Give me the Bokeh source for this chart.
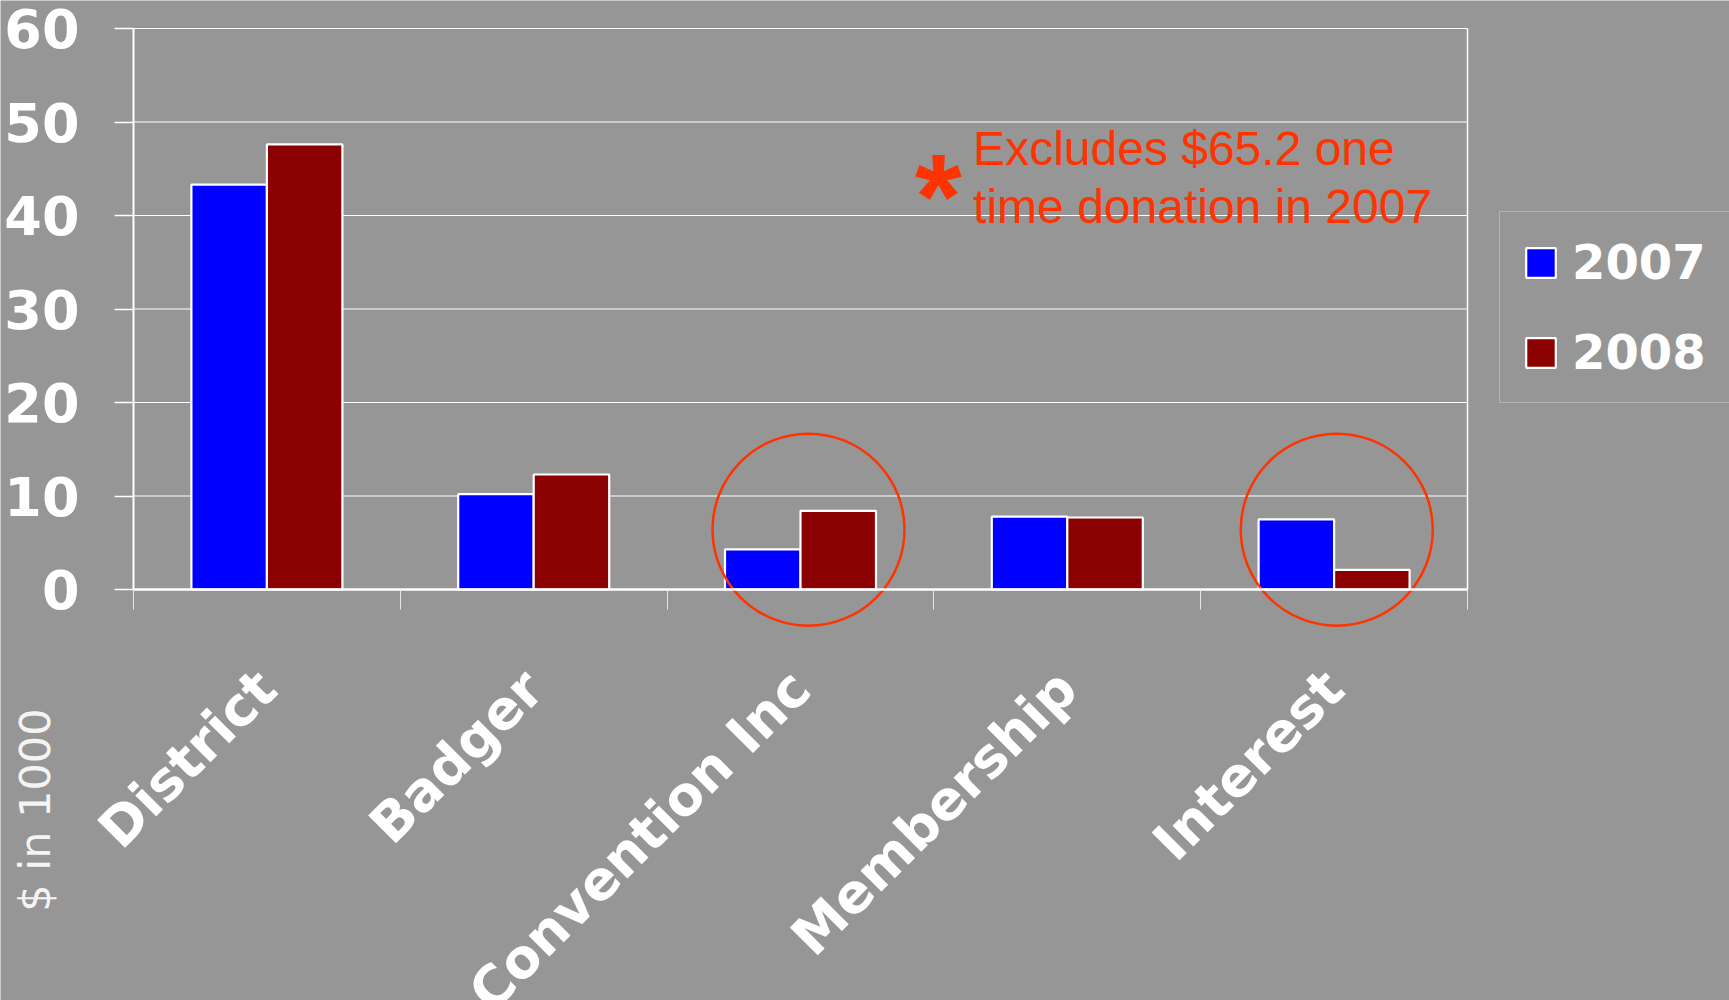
import math
from bokeh.plotting import figure
from bokeh.models import (ColumnDataSource, Range1d, FixedTicker, Legend, LegendItem, Label)
from bokeh.embed import file_html
from bokeh.resources import INLINE

# ---- data ----
categories = ["District", "Badger", "Convention Inc", "Membership", "Interest"]
values_2007 = [43.3, 10.2, 4.3, 7.8, 7.5]
values_2008 = [47.6, 12.3, 8.4, 7.7, 2.1]
series_names = ["2007", "2008"]
y_ticks = [0, 10, 20, 30, 40, 50, 60]
note_text = "Excludes $65.2 one\ntime donation in 2007"
axis_note = "$ in 1000"
circled = ["Convention Inc", "Interest"]
circle_shift = [0.03, 0.01]
circle_level = [6.4, 6.4]

BG = "#969696"
BLUE = "#0000FF"
RED = "#8B0000"
ORANGE = "#FF3300"
BAR_W = 0.283
W, H = 1729, 1000
# plot-area placement on the canvas (pixels)
FL, FR, FT, FB = 133, 1467, 28, 589
ncat = len(categories)
ymax = y_ticks[-1]
xs = (FR - FL) / ncat
ys = (FB - FT) / ymax

idx = [categories.index(c) + 0.5 for c in categories]
src = ColumnDataSource(dict(
    cat=categories,
    x07=[i - BAR_W / 2 for i in idx],
    x08=[i + BAR_W / 2 for i in idx],
    v07=values_2007,
    v08=values_2008,
))

p = figure(width=W, height=H, output_backend="svg", toolbar_location=None,
           x_range=Range1d(-FL / xs, ncat + (W - FR) / xs),
           y_range=Range1d(-(H - FB) / ys, ymax + FT / ys),
           min_border=0, background_fill_color=BG, border_fill_color=BG)
p.outline_line_color = None
p.xgrid.visible = False
p.ygrid.visible = False

# gridlines and right border of the plot area
grid_y = y_ticks[1:]
p.segment(x0=[0] * len(grid_y), x1=[ncat] * len(grid_y), y0=grid_y, y1=grid_y,
          line_color="white", line_width=1.2)
p.segment(x0=[ncat], x1=[ncat], y0=[0], y1=[ymax], line_color="white", line_width=1.5)

r07 = p.vbar(x="x07", top="v07", width=BAR_W, source=src, fill_color=BLUE,
             line_color="white", line_width=2.2)
r08 = p.vbar(x="x08", top="v08", width=BAR_W, source=src, fill_color=RED,
             line_color="white", line_width=2.2)

# circles around the highlighted categories
cx = [categories.index(c) + 0.5 + s for c, s in zip(circled, circle_shift)]
p.scatter(x=cx, y=circle_level, marker="circle", size=192, fill_color=None,
          line_color=ORANGE, line_width=2.5)

ya = p.yaxis[0]
ya.fixed_location = 0
ya.bounds = (0, ymax)
ya.ticker = FixedTicker(ticks=y_ticks)
ya.axis_line_color = "white"
ya.axis_line_width = 2
ya.major_tick_line_color = "white"
ya.major_tick_line_width = 1.5
ya.major_tick_out = 19
ya.major_tick_in = 0
ya.minor_tick_line_color = None
ya.major_label_standoff = 35
ya.major_label_text_color = "white"
ya.major_label_text_font = "DejaVu Sans"
ya.major_label_text_font_style = "bold"
ya.major_label_text_font_size = "54px"

xa = p.xaxis[0]
xa.fixed_location = 0
xa.bounds = (0, ncat)
xa.ticker = FixedTicker(ticks=idx, minor_ticks=list(range(ncat + 1)))
xa.major_label_overrides = {i: c for i, c in zip(idx, categories)}
xa.major_label_orientation = math.pi / 4
xa.axis_line_color = "white"
xa.axis_line_width = 2.5
xa.major_tick_line_color = None
xa.major_tick_out = 0
xa.major_tick_in = 0
xa.minor_tick_line_color = "#e8e8e8"
xa.minor_tick_line_width = 1
xa.minor_tick_out = 20
xa.minor_tick_in = 0
xa.major_label_standoff = 70
xa.major_label_text_color = "white"
xa.major_label_text_font = "DejaVu Sans"
xa.major_label_text_font_style = "bold"
xa.major_label_text_font_size = "54px"

# annotations
p.add_layout(Label(x=3.147, y=50.0, text=note_text, text_font="Liberation Sans",
                   text_font_size="48px", text_color=ORANGE, text_align="left",
                   text_baseline="top", text_line_height=1.1))
p.add_layout(Label(x=3.017, y=42.1, text="*", text_font="Liberation Sans",
                   text_font_style="bold", text_font_size="120px", text_color=ORANGE,
                   text_align="center", text_baseline="middle"))
p.add_layout(Label(x=-0.371, y=-23.6, text=axis_note, angle=math.pi / 2,
                   text_font="DejaVu Sans", text_font_size="43px", text_color="#f4f4f4",
                   text_align="center", text_baseline="middle"))

legend = Legend(items=[LegendItem(label=series_names[0], renderers=[r07]),
                       LegendItem(label=series_names[1], renderers=[r08])],
                location=(1499, 597), orientation="vertical",
                background_fill_alpha=0, border_line_color="#d0d0d0", border_line_width=1.5,
                label_text_color="white", label_text_font="DejaVu Sans",
                label_text_font_style="bold", label_text_font_size="48px",
                glyph_width=37, glyph_height=37, label_standoff=13, spacing=34,
                label_width=160, padding=22, margin=0)
p.add_layout(legend)

open("out.html", "w").write(file_html(p, INLINE))
